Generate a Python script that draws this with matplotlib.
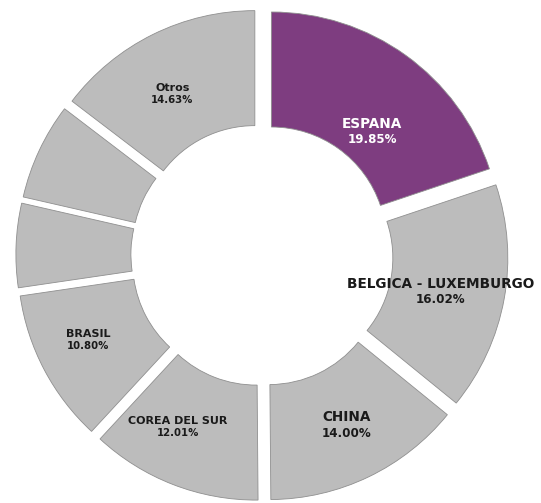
import numpy as np
import matplotlib
matplotlib.use("Agg")
import matplotlib.pyplot as plt

# shares by country (clockwise from the top)
paises = ["ESPANA", "BELGICA - LUXEMBURGO", "CHINA", "COREA DEL SUR",
          "BRASIL", "", "", "Otros"]
valores = [19.85, 16.02, 14.00, 12.01, 10.80, 5.90, 6.79, 14.63]
colores = ["#7e3d80"] + ["#bcbcbc"] * 7

# small nudges of the labels, in pixels
ajuste = {"ESPANA": (0, -30), "BELGICA - LUXEMBURGO": (-7, -3), "CHINA": (3, 0),
          "COREA DEL SUR": (-16, 4), "BRASIL": (-7, 3), "Otros": (-6, -8)}

fig = plt.figure(figsize=(5.41, 5.03), dpi=100)
ax = fig.add_axes([0, 0, 1, 1])

wedges, _ = ax.pie(valores, colors=colores, startangle=90, counterclock=False,
                   explode=[0.07] * len(valores), radius=1.0,
                   wedgeprops=dict(width=0.5, edgecolor="#8f8f8f", linewidth=0.6))

grandes = ["ESPANA", "BELGICA - LUXEMBURGO", "CHINA"]
for w, nombre, v in zip(wedges, paises, valores):
    if v < 10:
        continue
    ang = np.deg2rad((w.theta1 + w.theta2) / 2)
    cx, cy = w.center
    x = cx + 0.75 * np.cos(ang)
    y = cy + 0.75 * np.sin(ang)
    ox, oy = ajuste.get(nombre, (0, 0))
    color = "white" if nombre == "ESPANA" else "#1a1a1a"
    if nombre in grandes:
        fs1, fs2, dy = 9.8, 8.6, 8
    else:
        fs1, fs2, dy = 8, 7.3, 6
    ax.annotate(nombre, (x, y), xytext=(ox, oy + dy), textcoords="offset pixels",
                ha="center", va="center", fontsize=fs1, fontweight="bold", color=color)
    ax.annotate(f"{v:.2f}%", (x, y), xytext=(ox, oy - dy), textcoords="offset pixels",
                ha="center", va="center", fontsize=fs2, fontweight="bold", color=color)

ax.set_xlim(-1.139, 1.213)
ax.set_ylim(-1.078, 1.109)
ax.set_aspect("equal")
ax.axis("off")

fig.savefig("out.png", dpi=100)
